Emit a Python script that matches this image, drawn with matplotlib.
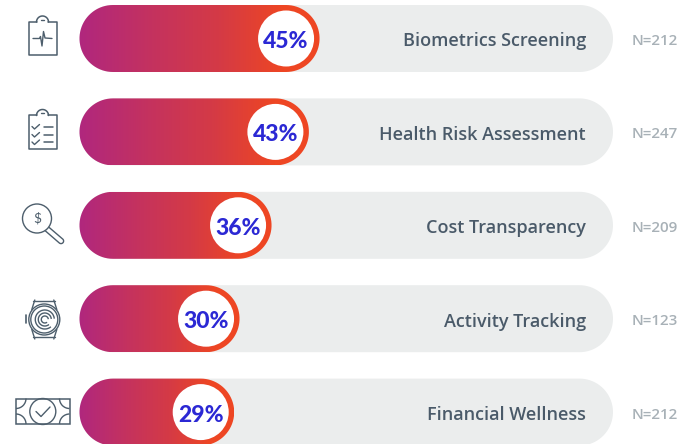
import numpy as np
import matplotlib
matplotlib.use("Agg")
import matplotlib.pyplot as plt
from matplotlib.colors import LinearSegmentedColormap
from matplotlib.patches import PathPatch, Circle, Arc, Rectangle, Ellipse
from matplotlib.path import Path

categories = ["Biometrics Screening", "Health Risk Assessment", "Cost Transparency",
              "Activity Tracking", "Financial Wellness"]
values = [45, 43, 36, 30, 29]
sample_sizes = [212, 247, 209, 123, 212]
full_scale = 100

W, H = 696, 444
X0, PX_PER_PCT = 79.5, 5.335
Y0, PX_PER_ROW = 38.5, 93.4
R = 33.5
R_IN = 28.0
FONT = "Lato"
BLUE, SLATE, GREY = "#2B28D4", "#4A5A69", "#A8B1B7"
TRACK = "#EBEDED"

fig = plt.figure(figsize=(W / 100, H / 100), dpi=100)
ax = fig.add_axes([0, 0, 1, 1])
ax.set_xlim(-X0 / PX_PER_PCT, (W - X0) / PX_PER_PCT)
ax.set_ylim((H - Y0) / PX_PER_ROW, -Y0 / PX_PER_ROW)
ax.axis("off")

ux, uy = 1 / PX_PER_PCT, 1 / PX_PER_ROW
cmap = LinearSegmentedColormap.from_list(
    "g", [(0, "#B0277E"), (0.3, "#C4325F"), (0.58, "#D43A46"), (0.85, "#EE4623"), (1, "#EE4623")])


def pill(x1, row):
    t = np.linspace(np.pi / 2, 3 * np.pi / 2, 40)
    left = np.c_[R * ux + R * ux * np.cos(t), row - R * uy * np.sin(t)]
    right = np.c_[x1 - R * ux - R * ux * np.cos(t), row + R * uy * np.sin(t)]
    v = np.vstack([left, right[::1], left[:1]])
    return Path(v)


for i, (cat, val, n) in enumerate(zip(categories, values, sample_sizes)):
    ax.add_patch(PathPatch(pill(full_scale, i), fc=TRACK, ec="none", zorder=1))
    im = ax.imshow(np.linspace(0, 1, 256)[None, :], cmap=cmap, aspect="auto",
                   extent=[0, val, i + R * uy, i - R * uy], zorder=2,
                   interpolation="bilinear")
    clip = PathPatch(pill(val, i), fc="none", ec="none", transform=ax.transData)
    ax.add_patch(clip)
    im.set_clip_path(clip)
    cx = val - R * ux
    ax.add_patch(Ellipse((cx, i), 2 * R_IN * ux, 2 * R_IN * uy, fc="white", ec="none", zorder=3))
    ax.text(cx, i + 3 * uy, f"{val}%", ha="center", va="center", color=BLUE,
            fontsize=16.5, fontweight="black", family=FONT, zorder=4)
    ax.text(full_scale - 27 * ux, i + 3 * uy, cat, ha="right", va="center", color=SLATE,
            fontsize=13, fontweight="semibold", family="Open Sans", zorder=4)
    ax.text(full_scale + 19 * ux, i + 2.5 * uy, f"N={n}", ha="left", va="center", color=GREY,
            fontsize=10.9, fontweight="semibold", family="Open Sans", zorder=4)
ax.set_xlim(-X0 / PX_PER_PCT, (W - X0) / PX_PER_PCT)
ax.set_ylim((H - Y0) / PX_PER_ROW, -Y0 / PX_PER_ROW)

# Decorative icons, drawn on an overlay in pixel space
ic = fig.add_axes([0, 0, 1, 1], facecolor="none")
ic.set_xlim(0, W)
ic.set_ylim(H, 0)
ic.axis("off")
LC = "#4D5E6C"
LW = 1.0


def line(xs, ys, lw=LW):
    ic.plot(xs, ys, color=LC, lw=lw, solid_capstyle="round", solid_joinstyle="round")


def clipboard(dy):
    top, bot = 22 + dy, 55.5 + dy
    th = np.linspace(np.pi, 0, 30)
    ax_, ay_ = 42.5 + 6 * np.cos(th), top - 0 - 6 * np.sin(th)
    xs = [37, 28.5, 28.5, 56.5, 56.5, 48]
    ys = [top, top, bot, bot, top, top]
    line(xs, ys, 1.1)
    line(ax_, ay_, 1.1)
    line([41.3, 43.7], [top - 2, top - 2], 1.0)


clipboard(0)
line([33, 39.5, 40.5, 42, 43.5, 45, 52], [38.5, 38.5, 36.5, 46, 31.5, 38, 38.5])
clipboard(93.5)
for y in (126.5, 134.5, 142):
    line([32, 34.5, 39.5], [y, y + 2.5, y - 2])
    line([44, 53], [y + 0.5, y + 0.5], 1.1)

# magnifier
ic.add_patch(Circle((37, 218.5), 14.5, fc="none", ec=LC, lw=LW))
ic.text(37, 218.5, "$", ha="center", va="center", color=LC, fontsize=10, family=FONT)
t = np.linspace(-np.pi / 4, 3 * np.pi / 4, 20)
hx = 61 + 2.6 * np.cos(t)
hy = 241 + 2.6 * np.sin(t)
line(np.r_[47.3 + 1.8, hx, 47.3 - 1.8, ], np.r_[229.2 - 1.8, hy, 229.2 + 1.8, ])

# watch
cx, cy = 44.3, 319.5
ic.add_patch(Circle((cx, cy), 15.5, fc="none", ec=LC, lw=LW))
ic.add_patch(Circle((cx, cy), 13.5, fc="none", ec=LC, lw=LW))
for s in (-1, 1):
    line([cx + s * 12.5, cx + s * 9.5], [cy - 10, cy - 19.5])
    line([cx + s * 12.5, cx + s * 9.5], [cy + 10, cy + 19.5])
line([cx - 11, cx + 11], [cy - 19, cy - 19])
line([cx - 11, cx + 11], [cy + 17.5, cy + 17.5])
line([26, 26], [cy - 4.5, cy + 3.5], 1.2)
for r in (9.5, 6.5, 3.5):
    ic.add_patch(Arc((cx + 0.5, cy), 2 * r, 2 * r, theta1=50, theta2=355, ec=LC, lw=LW))

# banknote
ic.add_patch(Rectangle((16, 398.5), 53.5, 25.5, fc="none", ec=LC, lw=1.1))
ic.add_patch(Circle((42.8, 411.5), 13, fc="none", ec=LC, lw=LW))
line([36, 41, 50], [411.5, 416.5, 407])
for (x, y, t1) in [(16, 398.5, 0), (69.5, 398.5, 90), (69.5, 424, 180), (16, 424, 270)]:
    ic.add_patch(Arc((x, y), 20, 20, theta1=t1, theta2=t1 + 90, ec=LC, lw=LW))

fig.savefig("out.png", dpi=100)
